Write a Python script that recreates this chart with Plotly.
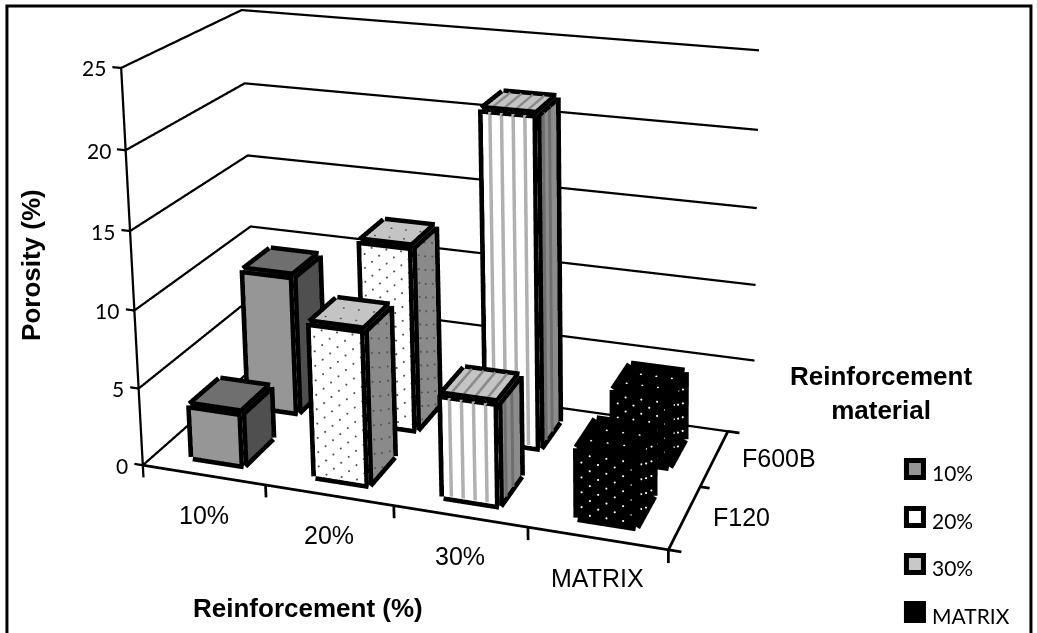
import plotly.graph_objects as go

categories = ['10%', '20%', '30%', 'MATRIX']
depth_categories = ['F120', 'F600B']
series_names = ['10%', '20%', '30%', 'MATRIX']
values_10 = [3.4, 9.3]
values_20 = [9.8, 12.2]
values_30 = [6.4, 21.5]
values_matrix = [4.3, 4.5]
z_ticks = [0, 5, 10, 15, 20, 25]

XR = [-0.15, 4.2]; YR = [-0.1, 1.1]; ZR = [-2.0, 25.5]
EYE = [1.4439, -3.4183, 1.5202]
CEN = [0.0449, 1.2906, 0.5993]
AX, AY = 1.3082, 0.6244
CX, CY, HH = 626.5545, -100, 1466

WW = int(2*max(CX, 1037-CX))+2
LEFT = CX-WW/2; TOP = CY-HH/2
def px(X): return (X-LEFT)/WW
def py(Y): return 1-(Y-TOP)/HH

fig = go.Figure()
BW=0.42; BD=0.25
EDGE=18; THIN=4.5
def seg(xs,ys,zs,pairs):
    X=[];Y=[];Z=[]
    for a,b in pairs:
        X+=[xs[a],xs[b],None];Y+=[ys[a],ys[b],None];Z+=[zs[a],zs[b],None]
    return X,Y,Z
def lines3(X,Y,Z,color,width):
    fig.add_trace(go.Scatter3d(x=X,y=Y,z=Z,mode='lines',line=dict(color=color,width=width),hoverinfo='skip',showlegend=False))

styles = [
  dict(front='#969696',top='#6f6f6f',side='#4f4f4f',pat=None),
  dict(front='#ffffff',top='#c4c4c4',side='#8a8a8a',pat='dots',dot='#555555'),
  dict(front='#ffffff',top='#c4c4c4',side='#8c8c8c',pat='stripes'),
  dict(front='#000000',top='#000000',side='#000000',pat='dots',dot='#ffffff'),
]
all_vals=[values_10,values_20,values_30,values_matrix]
for i,(vals,st) in enumerate(zip(all_vals,styles)):
    for j,h in enumerate(vals):
        x0=i+.5-BW/2;x1=i+.5+BW/2;y0=j*.5+.25-BD/2;y1=y0+BD
        xs=[x0,x1,x1,x0,x0,x1,x1,x0];ys=[y0,y0,y1,y1,y0,y0,y1,y1];zs=[0,0,0,0,h,h,h,h]
        tri=[(0,1,5),(0,5,4),(1,2,6),(1,6,5),(4,5,6),(4,6,7)]
        cols=[st['front']]*2+[st['side']]*2+[st['top']]*2
        fig.add_trace(go.Mesh3d(x=xs,y=ys,z=zs,i=[t[0] for t in tri],j=[t[1] for t in tri],k=[t[2] for t in tri],
            facecolor=cols,flatshading=True,lighting=dict(ambient=1,diffuse=0,specular=0,fresnel=0,roughness=1),hoverinfo='skip',showscale=False))
        eps=0.004
        if st['pat']=='dots':
            dxs=[];dys=[];dzs=[]
            row=0; zz=h-0.35
            while zz>0.2:
                off=0.03 if row%2 else 0.09
                xx=x0+off
                while xx<x1-0.02:
                    dxs.append(xx);dys.append(y0-eps);dzs.append(zz);xx+=0.12
                yy=y0+(0.05 if row%2 else 0.12)
                while yy<y1-0.03:
                    dxs.append(x1+eps*3);dys.append(yy);dzs.append(zz);yy+=0.15
                zz-=0.46;row+=1
            for yy,off in ((y0+.07,.06),(y0+.17,.12)):
                xx=x0+off
                while xx<x1-0.03:
                    dxs.append(xx);dys.append(yy);dzs.append(h+.03);xx+=0.12
            fig.add_trace(go.Scatter3d(x=dxs,y=dys,z=dzs,mode='markers',marker=dict(size=1.2,color=st['dot'],line=dict(width=0)),hoverinfo='skip',showlegend=False))
        if st['pat']=='stripes':
            X=[];Y=[];Z=[];X2=[];Y2=[];Z2=[]
            xx=x0+.06
            while xx<x1-.03:
                X+=[xx,xx,None];Y+=[y0-eps,y0-eps,None];Z+=[0.1,h-.1,None]
                X2+=[xx,xx,None];Y2+=[y0,y1,None];Z2+=[h+.03,h+.03,None]
                xx+=.09
            lines3(X,Y,Z,'#b0b0b0',7)
            lines3(X2,Y2,Z2,'#8a8a8a',7)
            X=[];Y=[];Z=[]
            yy=y0+.06
            while yy<y1-.03:
                X+=[x1+eps*3,x1+eps*3,None];Y+=[yy,yy,None];Z+=[0.1,h-.1,None]
                yy+=.08
            lines3(X,Y,Z,'#6e6e6e',6)
        X,Y,Z=seg(xs,ys,zs,[(0,1),(1,5),(5,4),(4,0),(4,7),(7,6),(6,5),(6,2),(2,1)])
        lines3(X,Y,Z,'black',EDGE)

# walls, floor, ticks
for z in z_ticks[1:]:
    lines3([-.07,0,0,4.2],[0,0,1,1],[z,z,z,z],'black',THIN)
lines3([-.07,0,0,4.09],[0,0,1,1],[0,0,0,0],'black',THIN)
lines3([0,0],[0,0],[-.8,25],'black',THIN)
X=[-.0,4.0,None];Y=[0,0,None];Z=[0,0,None]
for k in range(1,5):
    X+=[k,k,None];Y+=[0,0,None];Z+=[0,-.8,None]
X+=[4,4,4.09,None,4,4.07,None,4,4.09];Y+=[0,1,1,None,.5,.5,None,0,0];Z+=[0,0,0,None,0,0,None,0,0]
lines3(X,Y,Z,'black',THIN+1)

ann3=[]
for z in z_ticks:
    ann3.append(dict(x=0,y=0,z=z,text=str(z),showarrow=False,xanchor='right',yanchor='middle',xshift=-13,font=dict(family='Lato',size=21,color='black')))
for i,c in enumerate(categories):
    ann3.append(dict(x=i+.5,y=0,z=0,text=c,showarrow=False,xanchor='center',yanchor='middle',yshift=-40,font=dict(family='Liberation Sans',size=25,color='black')))
for j,c in enumerate(depth_categories):
    ann3.append(dict(x=4,y=j*.5+.25,z=0,text=c,showarrow=False,xanchor='left',yanchor='middle',xshift=26,font=dict(family='Liberation Sans',size=25,color='black')))

ann=[]
B=dict(family='Liberation Sans',size=26,color='black')
def note(x,y,text,font,xanchor='center',**kw):
    ann.append(dict(x=px(x),y=py(y),xref='paper',yref='paper',text=text,showarrow=False,font=font,xanchor=xanchor,yanchor='middle',**kw))
note(308,608,'<b>Reinforcement (%)</b>',B)
note(31,265,'<b>Porosity (%)</b>',B,textangle=-90)
note(881,393,'<b>Reinforcement</b><br><b>material</b>',B,align='center')
legend_y=[469,517,564,612]
legend_fill=['#969696','#ffffff','#c8c8c8','#000000']
shapes=[dict(type='rect',xref='paper',yref='paper',x0=px(7),x1=px(1031),y0=py(6),y1=py(660),line=dict(color='black',width=3))]
for name,yy,fc in zip(series_names,legend_y,legend_fill):
    shapes.append(dict(type='rect',xref='paper',yref='paper',x0=px(906.5),x1=px(923.5),y0=py(yy-8.5),y1=py(yy+8.5),fillcolor=fc,line=dict(color='black',width=5)))
    note(930,yy+3,name,dict(family='Lato',size=21,color='black'),xanchor='left')

ax_off=dict(visible=False,showbackground=False,showgrid=False,zeroline=False,showspikes=False)
fig.update_layout(width=WW,height=HH,margin=dict(l=0,r=0,t=0,b=0),paper_bgcolor='white',showlegend=False,
    annotations=ann,shapes=shapes,
    scene=dict(domain=dict(x=[0,1],y=[0,1]),bgcolor='white',aspectmode='manual',aspectratio=dict(x=AX,y=AY,z=1),
        xaxis=dict(range=XR,**ax_off),yaxis=dict(range=YR,**ax_off),zaxis=dict(range=ZR,**ax_off),
        camera=dict(eye=dict(x=EYE[0],y=EYE[1],z=EYE[2]),center=dict(x=CEN[0],y=CEN[1],z=CEN[2]),up=dict(x=0,y=0,z=1),projection=dict(type='perspective')),
        annotations=ann3))
post=f"""var gd=document.getElementById('{{plot_id}}');document.documentElement.style.overflow='hidden';document.body.style.overflow='hidden';document.body.style.margin='0';gd.style.position='absolute';gd.style.left='{LEFT}px';gd.style.top='{TOP}px';"""
fig.write_html("out.html",post_script=post,default_width=f"{WW}px",default_height=f"{HH}px",config=dict(displayModeBar=False))
